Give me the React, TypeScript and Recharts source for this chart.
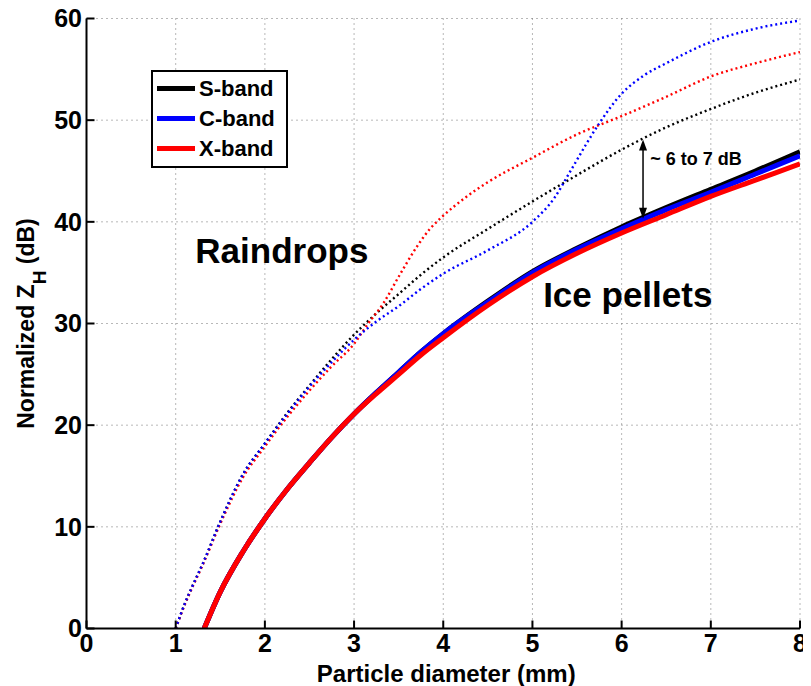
import {
  LineChart, Line, XAxis, YAxis, CartesianGrid, Legend,
  ReferenceLine, ReferenceDot, Label,
} from 'recharts'

const FONT = '"Liberation Sans", Arial, Helvetica, sans-serif'

const X_TICKS = [0, 1, 2, 3, 4, 5, 6, 7, 8]
const Y_TICKS = [0, 10, 20, 30, 40, 50, 60]
const BAND_ORDER = ['S-band', 'C-band', 'X-band']

// ice pellets, [diameter (mm), normalized Zh (dB)]
const ICE_S: [number, number][] = [
  [1.32, 0], [1.5, 3.6], [1.75, 7.5], [2, 10.8], [2.25, 13.7], [2.5, 16.3],
  [2.75, 18.8], [3, 21.1], [3.25, 23.2], [3.5, 25.2], [3.75, 27.2], [4, 29.0],
  [4.5, 32.2], [5, 35.1], [5.5, 37.4], [6, 39.5], [6.5, 41.4], [7, 43.2],
  [7.5, 45.0], [8, 46.9],
]
const ICE_C: [number, number][] = [
  [1.32, 0], [1.5, 3.6], [1.75, 7.5], [2, 10.8], [2.25, 13.7], [2.5, 16.3],
  [2.75, 18.8], [3, 21.1], [3.25, 23.2], [3.5, 25.2], [3.75, 27.2], [4, 29.0],
  [4.5, 32.1], [5, 35.0], [5.5, 37.3], [6, 39.3], [6.5, 41.2], [7, 42.9],
  [7.5, 44.7], [8, 46.5],
]
const ICE_X: [number, number][] = [
  [1.32, 0], [1.5, 3.6], [1.75, 7.5], [2, 10.8], [2.25, 13.7], [2.5, 16.3],
  [2.75, 18.8], [3, 21.1], [3.25, 23.1], [3.5, 25.0], [3.75, 26.9], [4, 28.6],
  [4.5, 31.8], [5, 34.6], [5.5, 36.9], [6, 38.9], [6.5, 40.7], [7, 42.5],
  [7.5, 44.1], [8, 45.7],
]

// raindrops
const RAIN_S: [number, number][] = [
  [1, 0], [1.1, 2.4], [1.2, 4.4], [1.3, 6.3], [1.5, 10.5], [1.75, 15.1],
  [2, 18.2], [2.25, 21.2], [2.5, 23.9], [2.75, 26.5], [3, 28.9], [3.25, 31.0],
  [3.5, 32.9], [3.75, 34.8], [4, 36.5], [4.5, 39.3], [5, 42.0], [5.5, 44.6],
  [6, 47.1], [6.5, 49.3], [7, 51.1], [7.5, 52.7], [8, 54.0],
]
const RAIN_C: [number, number][] = [
  [1, 0], [1.1, 2.4], [1.2, 4.4], [1.3, 6.3], [1.5, 10.5], [1.75, 15.1],
  [2, 18.2], [2.25, 21.1], [2.5, 23.8], [2.75, 26.2], [3, 28.4], [3.25, 30.2],
  [3.5, 31.7], [3.75, 33.4], [4, 34.9], [4.5, 37.2], [5, 40.0], [5.25, 42.4],
  [5.4, 44.6], [5.5, 46.1], [5.6, 47.6], [5.75, 49.7], [6, 52.6], [6.25, 54.4],
  [6.5, 55.6], [7, 57.7], [7.5, 59.0], [8, 59.8],
]
const RAIN_X: [number, number][] = [
  [1, 0], [1.1, 2.3], [1.2, 4.3], [1.3, 6.2], [1.5, 10.3], [1.75, 14.8],
  [2, 17.9], [2.25, 20.8], [2.5, 23.4], [2.75, 25.8], [3, 28.0], [3.15, 29.9],
  [3.33, 32.0], [3.5, 34.6], [3.7, 37.5], [3.85, 39.3], [4, 40.6], [4.25, 42.4],
  [4.5, 43.9], [5, 46.3], [5.5, 48.6], [6, 50.4], [6.5, 52.3], [7, 54.3],
  [7.5, 55.6], [8, 56.7],
]

// ~6-7 dB gap between rain and ice at S-band
const GAP_D = 6.24
const GAP_TOP = 48.1
const GAP_BOTTOM = 40.3

const toPts = (arr: [number, number][]) => arr.map(([d, z]) => ({ d, z }))

const TICK_LEN = 8
const X_GAP = 6
const Y_GAP = 4.5
const DOTTED = '2 3'
const axisLine = { stroke: '#000', strokeWidth: 2 }
const labelText = { fontSize: 25, fontWeight: 700, fill: '#000', fontFamily: FONT }

// MATLAB-style ticks pointing into the axes box
function BottomTick({ x, y, payload }: any) {
  const axisY = y - X_GAP
  return (
    <g>
      <line x1={x} x2={x} y1={axisY} y2={axisY - TICK_LEN} stroke="#000" strokeWidth={2} />
      <text x={x} y={y} dy="0.71em" textAnchor="middle" {...labelText}>{payload.value}</text>
    </g>
  )
}

function LeftTick({ x, y, payload }: any) {
  const axisX = x + Y_GAP
  return (
    <g>
      <line x1={axisX} x2={axisX + TICK_LEN} y1={y} y2={y} stroke="#000" strokeWidth={2} />
      <text x={x} y={y} dy="0.355em" textAnchor="end" {...labelText}>{payload.value}</text>
    </g>
  )
}

function TopTick({ x, y }: any) {
  return <line x1={x} x2={x} y1={y} y2={y + TICK_LEN} stroke="#000" strokeWidth={2} />
}

function RightTick({ x, y }: any) {
  return <line x1={x} x2={x - TICK_LEN} y1={y} y2={y} stroke="#000" strokeWidth={2} />
}

function BandLegend({ payload }: any) {
  const items = (payload || [])
    .filter((p: any) => BAND_ORDER.includes(p.value))
    .sort((a: any, b: any) => BAND_ORDER.indexOf(a.value) - BAND_ORDER.indexOf(b.value))
  return (
    <div style={{
      border: '2px solid #000', background: '#fff', width: 133,
      padding: '2px 0 2.5px 0', fontFamily: FONT,
    }}>
      {items.map((item: any) => (
        <div key={item.value} style={{ display: 'flex', alignItems: 'center', height: 30 }}>
          <span style={{ width: 38, height: 5, background: item.color, margin: '0 4px' }} />
          <span style={{ fontSize: 22, fontWeight: 700, color: '#000' }}>{item.value}</span>
        </div>
      ))}
    </div>
  )
}

function YTitle({ viewBox }: any) {
  const cx = viewBox.x + 26
  const cy = viewBox.y + viewBox.height / 2
  return (
    <text
      x={cx} y={cy} transform={`rotate(-90 ${cx} ${cy})`} textAnchor="middle"
      fontSize={23} fontWeight={700} fill="#000" fontFamily={FONT}
    >
      Normalized Z<tspan dy={12} fontSize={19}>H</tspan>
      <tspan dy={-12}> (dB)</tspan>
    </text>
  )
}

function XTitle({ viewBox }: any) {
  return (
    <text
      x={viewBox.x + viewBox.width / 2 + 3} y={viewBox.y + 53} textAnchor="middle"
      fontSize={24} fontWeight={700} fill="#000" fontFamily={FONT}
    >
      Particle diameter (mm)
    </text>
  )
}

function DoubleArrow({ x1, y1, x2, y2 }: any) {
  const top = Math.min(y1, y2)
  const bot = Math.max(y1, y2)
  return (
    <g>
      <line x1={x1} x2={x2} y1={top + 6} y2={bot - 6} stroke="#000" strokeWidth={1.5} />
      <path d={`M${x1},${top} L${x1 - 4},${top + 11} L${x1 + 4},${top + 11} Z`} fill="#000" />
      <path d={`M${x1},${bot} L${x1 - 4},${bot - 11} L${x1 + 4},${bot - 11} Z`} fill="#000" />
    </g>
  )
}

const bigText = (text: string) => (p: any) => (
  <text x={p.cx} y={p.cy} fontSize={35} fontWeight={700} fill="#000" fontFamily={FONT}>{text}</text>
)

const gapText = (p: any) => (
  <text x={p.cx} y={p.cy} fontSize={18} fontWeight={700} fill="#000" fontFamily={FONT}>~ 6 to 7 dB</text>
)

export default function App() {
  return (
    <div style={{ width: 811, height: 686, margin: '-8px 0 0 -8px' }}>
      <LineChart
        width={811}
        height={686}
        margin={{ top: 18.5, right: 11, bottom: 0, left: 8 }}
        style={{ fontFamily: FONT, background: '#fff' }}
      >
        <CartesianGrid stroke="#707070" strokeDasharray="1 4" strokeWidth={1} />
        <XAxis
          dataKey="d" type="number" domain={[0, 8]} ticks={X_TICKS} allowDataOverflow
          height={57.5} tickSize={0} tickMargin={X_GAP} tickLine={false}
          tick={<BottomTick />} axisLine={axisLine} interval={0}
        >
          <Label content={XTitle} />
        </XAxis>
        <XAxis
          xAxisId="top" orientation="top" type="number" domain={[0, 8]} ticks={X_TICKS}
          allowDataOverflow height={0} tickSize={0} tickMargin={0} tickLine={false}
          tick={<TopTick />} axisLine={axisLine} interval={0}
        />
        <YAxis
          type="number" domain={[0, 60]} ticks={Y_TICKS} allowDataOverflow
          width={78.5} tickSize={0} tickMargin={Y_GAP} tickLine={false}
          tick={<LeftTick />} axisLine={axisLine} interval={0}
        >
          <Label content={YTitle} />
        </YAxis>
        <YAxis
          yAxisId="right" orientation="right" type="number" domain={[0, 60]} ticks={Y_TICKS}
          allowDataOverflow width={0} tickSize={0} tickMargin={0} tickLine={false}
          tick={<RightTick />} axisLine={axisLine} interval={0}
        />

        <Line data={toPts(RAIN_S)} dataKey="z" type="monotone" stroke="#000" strokeWidth={2.4}
          strokeDasharray={DOTTED} dot={false} legendType="none" isAnimationActive={false} />
        <Line data={toPts(RAIN_X)} dataKey="z" type="monotone" stroke="#ff0000" strokeWidth={2.4}
          strokeDasharray={DOTTED} dot={false} legendType="none" isAnimationActive={false} />
        <Line data={toPts(RAIN_C)} dataKey="z" type="monotone" stroke="#0000ff" strokeWidth={2.4}
          strokeDasharray={DOTTED} dot={false} legendType="none" isAnimationActive={false} />

        <Line data={toPts(ICE_S)} dataKey="z" name="S-band" type="monotone" stroke="#000"
          strokeWidth={5} dot={false} isAnimationActive={false} />
        <Line data={toPts(ICE_C)} dataKey="z" name="C-band" type="monotone" stroke="#0000ff"
          strokeWidth={5} dot={false} isAnimationActive={false} />
        <Line data={toPts(ICE_X)} dataKey="z" name="X-band" type="monotone" stroke="#ff0000"
          strokeWidth={5} dot={false} isAnimationActive={false} />

        <ReferenceLine
          segment={[{ x: GAP_D, y: GAP_TOP }, { x: GAP_D, y: GAP_BOTTOM }]}
          shape={DoubleArrow}
        />
        <ReferenceDot x={1.22} y={36.0} r={0} shape={bigText('Raindrops')} />
        <ReferenceDot x={5.12} y={31.6} r={0} shape={bigText('Ice pellets')} />
        <ReferenceDot x={6.32} y={45.6} r={0} shape={gapText} />

        <Legend
          layout="vertical" align="center" verticalAlign="middle"
          content={BandLegend}
          wrapperStyle={{ left: 151, top: 69.5, width: 'auto', height: 'auto' }}
        />
      </LineChart>
    </div>
  )
}
